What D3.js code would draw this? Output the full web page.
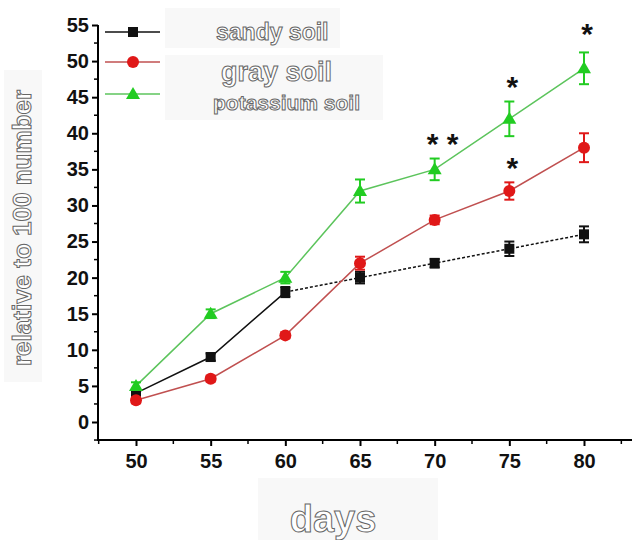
<!DOCTYPE html>
<html><head><meta charset="utf-8">
<script src="https://cdn.jsdelivr.net/npm/d3@7"></script>
<style>body{margin:0;background:#fff}svg{display:block}</style>
</head><body><svg id="c" width="632" height="540"></svg>
<script>
const days = [50, 55, 60, 65, 70, 75, 80];
const sandy = [4, 9, 18, 20, 22, 24, 26];
const sandyErr = [0.5, 0.5, 0.7, 0.8, 0.6, 1.0, 1.1];
const gray = [3, 6, 12, 22, 28, 32, 38];
const grayErr = [0.4, 0.4, 0.4, 0.9, 0.6, 1.2, 2.0];
const potassium = [5, 15, 20, 32, 35, 42, 49];
const potassiumErr = [0.5, 0.6, 0.8, 1.6, 1.5, 2.4, 2.2];
const seriesNames = ["sandy soil", "gray soil", "potassium soil"];
const xTicks = [50, 55, 60, 65, 70, 75, 80];
const yTicks = [0, 5, 10, 15, 20, 25, 30, 35, 40, 45, 50, 55];
const stars = [{d: 70, v: 39, t: "* *"}, {d: 75, v: 47, t: "*"}, {d: 75, v: 35.8, t: "*"}, {d: 80, v: 54.3, t: "*"}];

const svg = d3.select("#c");
const x = d3.scaleLinear().domain([50, 80]).range([136, 584]);
const y = d3.scaleLinear().domain([0, 55]).range([422, 25]);

// faint background patches
const patch = "#f8f8f8";
svg.append("rect").attr("x", 4).attr("y", 70).attr("width", 38).attr("height", 312).attr("fill", patch);
svg.append("rect").attr("x", 165).attr("y", 8).attr("width", 175).attr("height", 40).attr("fill", patch);
svg.append("rect").attr("x", 165).attr("y", 55).attr("width", 218).attr("height", 65).attr("fill", patch);
svg.append("rect").attr("x", 258).attr("y", 478).attr("width", 180).attr("height", 62).attr("fill", patch);

const tickFont = sel => sel.attr("font-family", "Liberation Sans, Arial").attr("font-weight", "bold").attr("font-size", 20).attr("fill", "#111");

// axes
const xAxis = d3.axisBottom(x).tickValues(xTicks).tickSize(6).tickFormat(d3.format("d"));
const gx = svg.append("g").attr("transform", `translate(0,440)`);
gx.append("line").attr("x1", 98).attr("x2", 632).attr("stroke", "#000").attr("stroke-width", 2);
gx.call(xAxis).select(".domain").remove();
gx.selectAll(".tick line").attr("stroke-width", 2);
gx.selectAll(".tick text").attr("y", 14).call(tickFont);
const minorX = d3.range(47.5, 84, 5);
gx.selectAll(".mx").data(minorX).enter().append("line").attr("x1", d => x(d)).attr("x2", d => x(d)).attr("y1", 0).attr("y2", 4).attr("stroke", "#000").attr("stroke-width", 1.5);

const yAxis = d3.axisLeft(y).tickValues(yTicks).tickSize(6);
const gy = svg.append("g").attr("transform", `translate(98,0)`);
gy.append("line").attr("y1", 25).attr("y2", 441).attr("stroke", "#000").attr("stroke-width", 2);
gy.call(yAxis).select(".domain").remove();
gy.selectAll(".tick line").attr("stroke-width", 2);
gy.selectAll(".tick text").attr("x", -9).call(tickFont);
const minorY = d3.range(2.5, 55, 5).concat([-2.5]);
gy.selectAll(".my").data(minorY).enter().append("line").attr("x1", 0).attr("x2", -4).attr("y1", d => y(d)).attr("y2", d => y(d)).attr("stroke", "#000").attr("stroke-width", 1.5);

// series
const series = [
  {vals: sandy, err: sandyErr, color: "#111", line: "#111", shape: "square"},
  {vals: gray, err: grayErr, color: "#e01818", line: "#c05050", shape: "circle"},
  {vals: potassium, err: potassiumErr, color: "#22cc22", line: "#5cc45c", shape: "triangle"}
];
function marker(g, shape, color, cx, cy) {
  if (shape === "square") g.append("rect").attr("x", cx - 5).attr("y", cy - 5).attr("width", 10).attr("height", 10).attr("fill", color);
  else if (shape === "circle") g.append("circle").attr("cx", cx).attr("cy", cy).attr("r", 6).attr("fill", color);
  else g.append("path").attr("d", `M${cx},${cy - 7}L${cx + 7},${cy + 5}L${cx - 7},${cy + 5}Z`).attr("fill", color);
}
const gs = svg.append("g");
series.forEach((s, si) => {
  const pts = days.map((d, i) => [x(d), y(s.vals[i])]);
  if (si === 0) {
    gs.append("path").attr("d", d3.line()(pts.slice(0, 3))).attr("fill", "none").attr("stroke", s.line).attr("stroke-width", 1.5);
    gs.append("path").attr("d", d3.line()(pts.slice(2))).attr("fill", "none").attr("stroke", s.line).attr("stroke-width", 1.5).attr("stroke-dasharray", "3,2");
  } else {
    gs.append("path").attr("d", d3.line()(pts)).attr("fill", "none").attr("stroke", s.line).attr("stroke-width", 1.5);
  }
  days.forEach((d, i) => {
    const cx = x(d), top = y(s.vals[i] + s.err[i]), bot = y(s.vals[i] - s.err[i]);
    gs.append("line").attr("x1", cx).attr("x2", cx).attr("y1", top).attr("y2", bot).attr("stroke", s.color).attr("stroke-width", 2);
    [top, bot].forEach(yy => gs.append("line").attr("x1", cx - 5).attr("x2", cx + 5).attr("y1", yy).attr("y2", yy).attr("stroke", s.color).attr("stroke-width", 2));
    marker(gs, s.shape, s.color, cx, y(s.vals[i]));
  });
});

// significance stars
svg.selectAll(".star").data(stars).enter().append("text")
  .attr("x", d => x(d.d) + (d.t.length > 1 ? 8 : 3)).attr("y", d => y(d.v) + 14).attr("text-anchor", "middle")
  .attr("font-family", "Liberation Sans, Arial").attr("font-weight", "bold").attr("font-size", 30).attr("fill", "#111").text(d => d.t);

// legend
const legRows = [32, 62, 94];
series.forEach((s, i) => {
  const g = svg.append("g");
  g.append("line").attr("x1", 105).attr("x2", 160).attr("y1", legRows[i]).attr("y2", legRows[i]).attr("stroke", s.line).attr("stroke-width", 1.5);
  marker(g, s.shape, s.color, 133, legRows[i]);
});
const hollow = sel => sel.attr("fill", "#fff").attr("stroke", "#666").attr("stroke-width", 1).attr("font-family", "Liberation Sans, Arial").attr("font-weight", "bold");
const legText = [{x: 216, y: 40, s: 23}, {x: 221, y: 81, s: 27}, {x: 213, y: 110, s: 21}];
seriesNames.forEach((n, i) => {
  svg.append("text").attr("x", legText[i].x).attr("y", legText[i].y).attr("font-size", legText[i].s).text(n).call(hollow);
});

// axis titles
svg.append("text").attr("transform", "translate(31,228) rotate(-90)").attr("text-anchor", "middle").attr("font-size", 26).text("relative to 100 number").call(hollow);
svg.append("text").attr("x", 333).attr("y", 532).attr("text-anchor", "middle").attr("font-size", 38).text("days").call(hollow);
</script></body></html>
